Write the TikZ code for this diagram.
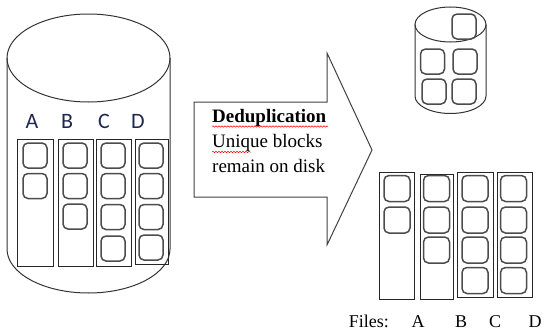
\documentclass[tikz,border=0pt]{standalone}
\usepackage{fontspec}
\setmainfont{Liberation Serif}
\newfontfamily\calib{Carlito}
\usetikzlibrary{decorations.pathmorphing}
\definecolor{lettercol}{RGB}{30,40,80}
\tikzset{
  outline/.style={draw=black!80, line width=1pt},
  colbox/.style={draw=black!85, line width=1pt},
  blk/.style={draw=black!70, line width=1.5pt, rounded corners=5pt, minimum width=24pt, minimum height=25pt, inner sep=0pt, fill=white},
  blkb/.style={blk, minimum width=26pt, minimum height=26pt},
  disklabel/.style={font=\calib\fontsize{22}{22}\selectfont, text=lettercol, anchor=base, inner sep=0pt},
  filelabel/.style={font=\fontsize{18}{18}\selectfont, anchor=base, inner sep=0pt},
  arrowtext/.style={font=\fontsize{19}{19}\selectfont, anchor=base west, inner sep=0pt},
  spell/.style={draw=red, line width=0.5pt, decorate, decoration={snake, amplitude=0.7pt, segment length=3pt}}
}
\begin{document}
\begin{tikzpicture}[x=1pt,y=-1pt]
\useasboundingbox (0,0) rectangle (544,332);
% left cylinder
\draw[outline] (88.5,58) ellipse [x radius=81.5, y radius=44];
\draw[outline] (7,58) -- (7,249) arc[start angle=180, end angle=360, x radius=81.5, y radius=-44] -- (170,58);
% letters
\node[disklabel] (lA) at (32,128) {A};
\node[disklabel] (lB) at (67,128) {B};
\node[disklabel] (lC) at (104,128) {C};
\node[disklabel] (lD) at (138,128) {D};
% columns left
\draw[colbox] (17,139) rectangle (53,266);
\draw[colbox] (58,139) rectangle (93,266);
\draw[colbox] (96,139) rectangle (131,266);
\draw[colbox] (135,139) rectangle (168,264);
% blocks left
\node[blk] (a1) at (35,155.5) {};
\node[blk] (a2) at (35,186) {};
\node[blk] (b1) at (75,155.5) {};
\node[blk] (b2) at (75,186) {};
\node[blk] (b3) at (75,216.5) {};
\node[blk] (c1) at (113,155.5) {};
\node[blk] (c2) at (113,186) {};
\node[blk] (c3) at (113,217) {};
\node[blk] (c4) at (113,248.5) {};
\node[blk] (d1) at (151,155.5) {};
\node[blk] (d2) at (151,186) {};
\node[blk] (d3) at (151,217) {};
\node[blk] (d4) at (151,247.5) {};
% arrow
\draw[draw=black!75, line width=1pt, line join=miter] (194,102) -- (327,102) -- (327,53) -- (372,150) -- (327,245) -- (327,197) -- (194,197) -- cycle;
\node[arrowtext, font=\bfseries\fontsize{19}{19}\selectfont] (t1) at (212,122) {Deduplication};
\node[arrowtext] (t2) at (212,147) {Unique blocks};
\node[arrowtext] (t3) at (212,172) {remain on disk};
\draw[spell] (212,126.5) -- (328,126.5);
\draw[spell] (212,152) -- (251,152);
% small cylinder
\draw[outline] (450.5,24.5) ellipse [x radius=35.5, y radius=17.5];
\draw[outline] (415,24.5) -- (415,96) arc[start angle=180, end angle=360, x radius=35.5, y radius=-17.5] -- (486,24.5);
\node[blk, fill=none] (s1) at (464,26.5) {};
\node[blk] (s2) at (432.5,61.5) {};
\node[blk] (s3) at (465,61.5) {};
\node[blk] (s4) at (434,91.5) {};
\node[blk] (s5) at (464,91.5) {};
% columns right
\draw[colbox] (379,172) rectangle (414,299);
\draw[colbox] (420,174) rectangle (453,299);
\draw[colbox] (457,172) rectangle (493,297);
\draw[colbox] (497,172) rectangle (532,297);
\node[blkb] (ra1) at (397,188.5) {};
\node[blkb] (ra2) at (397,220) {};
\node[blkb] (rb1) at (436.5,188.5) {};
\node[blkb] (rb2) at (436.5,220) {};
\node[blkb] (rb3) at (436.5,250) {};
\node[blkb] (rc1) at (475,188.5) {};
\node[blkb] (rc2) at (475,220) {};
\node[blkb] (rc3) at (475,250) {};
\node[blkb] (rc4) at (475,280.5) {};
\node[blkb] (rd1) at (513.5,188.5) {};
\node[blkb] (rd2) at (513.5,220) {};
\node[blkb] (rd3) at (513.5,250) {};
\node[blkb] (rd4) at (513.5,280.5) {};
% file labels
\node[filelabel, anchor=base east] (files) at (389,327) {Files:};
\node[filelabel] (fA) at (418,327) {A};
\node[filelabel] (fB) at (461,327) {B};
\node[filelabel] (fC) at (495,327) {C};
\node[filelabel] (fD) at (535,327) {D};
\end{tikzpicture}
\end{document}
